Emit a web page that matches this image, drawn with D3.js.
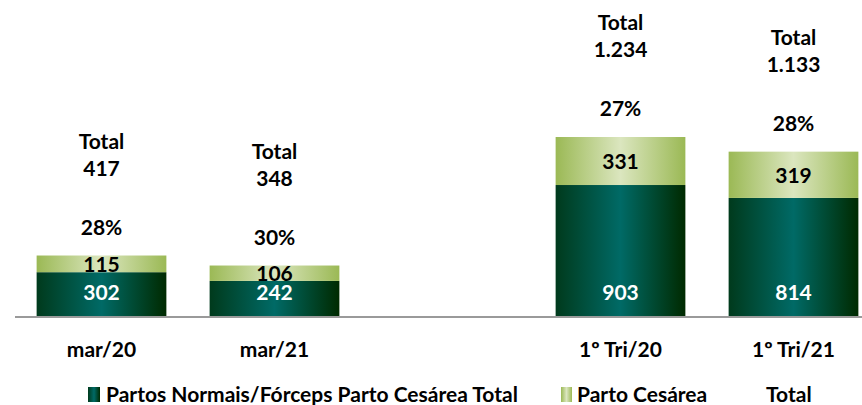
<!DOCTYPE html>
<html>
<head>
<meta charset="utf-8">
<script src="https://cdn.jsdelivr.net/npm/d3@7"></script>
<style>
  body { margin: 0; background: #fff; }
  text { font-family: Lato, "Liberation Sans", sans-serif; font-weight: bold; font-size: 21px; }
</style>
</head>
<body>
<svg id="chart" width="862" height="405"></svg>
<script>
// data
var categories = ["mar/20", "mar/21", "", "1º Tri/20", "1º Tri/21"];
var normais = [302, 242, null, 903, 814];
var cesarea = [115, 106, null, 331, 319];
var totals = [417, 348, null, 1234, 1133];
var pctLabels = ["28%", "30%", null, "27%", "28%"];

var svg = d3.select("#chart");
var baseY = 316;

var fmt = d3.formatLocale({ decimal: ",", thousands: ".", grouping: [3], currency: ["", ""] }).format(",d");

var x = d3.scaleBand().domain(categories).range([15, 880]).paddingInner(0.25).paddingOuter(0.125);
var y = d3.scaleLinear().domain([0, 1234]).range([baseY, 137]);

// gradients
var defs = svg.append("defs");
function grad(id, edge, mid, edge2) {
  var g = defs.append("linearGradient").attr("id", id).attr("x1", "0%").attr("x2", "100%");
  g.append("stop").attr("offset", "0%").attr("stop-color", edge);
  g.append("stop").attr("offset", "50%").attr("stop-color", mid);
  g.append("stop").attr("offset", "100%").attr("stop-color", edge2);
}
grad("gDark", "#003a1c", "#006a66", "#002a00");
grad("gLight", "#9bb955", "#dbe6bf", "#9bb955");

var rows = categories.map(function(c, i) {
  return { cat: c, n: normais[i], c: cesarea[i], t: totals[i], p: pctLabels[i] };
}).filter(function(d) { return d.n != null; });

var g = svg.append("g");

g.selectAll(".bn").data(rows).enter().append("rect")
  .attr("x", function(d) { return x(d.cat); })
  .attr("width", x.bandwidth())
  .attr("y", function(d) { return y(d.n); })
  .attr("height", function(d) { return baseY - y(d.n); })
  .attr("fill", "url(#gDark)");

g.selectAll(".bc").data(rows).enter().append("rect")
  .attr("x", function(d) { return x(d.cat); })
  .attr("width", x.bandwidth())
  .attr("y", function(d) { return y(d.n + d.c); })
  .attr("height", function(d) { return y(d.n) - y(d.n + d.c); })
  .attr("fill", "url(#gLight)");

// axis line
svg.append("line").attr("x1", 15).attr("x2", 862).attr("y1", baseY + 1).attr("y2", baseY + 1)
  .attr("stroke", "#9a9a9a").attr("stroke-width", 2);

var cx = function(d) { return x(d.cat) + x.bandwidth() / 2; };

// value labels
g.selectAll(".ln").data(rows).enter().append("text")
  .attr("x", cx).attr("y", baseY - 16)
  .attr("text-anchor", "middle").attr("fill", "#fff")
  .text(function(d) { return fmt(d.n); });

g.selectAll(".lc").data(rows).enter().append("text")
  .attr("x", cx).attr("y", function(d) { return (y(d.n) + y(d.n + d.c)) / 2 + 8; })
  .attr("text-anchor", "middle").attr("fill", "#000")
  .text(function(d) { return fmt(d.c); });

g.selectAll(".lp").data(rows).enter().append("text")
  .attr("x", cx).attr("y", function(d) { return y(d.t) - 21; })
  .attr("text-anchor", "middle").attr("fill", "#000")
  .text(function(d) { return d.p; });

g.selectAll(".lt").data(rows).enter().append("text")
  .attr("x", cx).attr("y", function(d) { return y(d.t) - 80; })
  .attr("text-anchor", "middle").attr("fill", "#000")
  .text(function(d) { return fmt(d.t); });

g.selectAll(".ltt").data(rows).enter().append("text")
  .attr("x", cx).attr("y", function(d) { return y(d.t) - 107; })
  .attr("text-anchor", "middle").attr("fill", "#000")
  .text("Total");

// category labels
g.selectAll(".cat").data(rows).enter().append("text")
  .attr("x", cx).attr("y", 357)
  .attr("text-anchor", "middle").attr("fill", "#000")
  .text(function(d) { return d.cat; });

// legend
var leg = svg.append("g");
leg.append("rect").attr("x", 88).attr("y", 387).attr("width", 12).attr("height", 15).attr("fill", "url(#gDark)");
leg.append("text").attr("x", 106).attr("y", 402).text("Partos Normais/Fórceps Parto Cesárea Total");
leg.append("rect").attr("x", 561).attr("y", 387).attr("width", 11).attr("height", 15).attr("fill", "url(#gLight)");
leg.append("text").attr("x", 577).attr("y", 402).text("Parto Cesárea");
leg.append("text").attr("x", 766).attr("y", 402).text("Total");
</script>
</body>
</html>
